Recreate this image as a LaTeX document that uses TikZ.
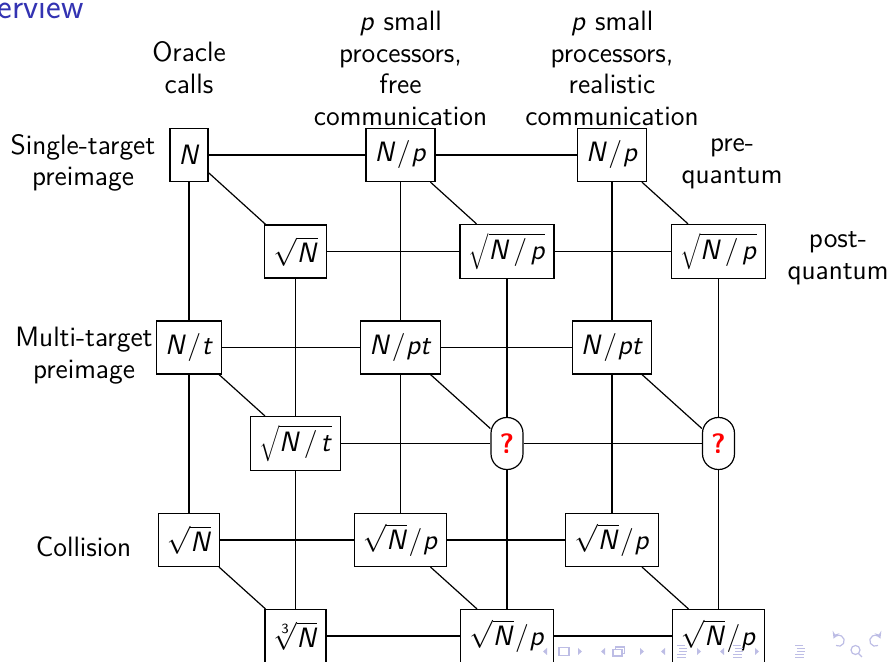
\documentclass[tikz,border=0pt]{standalone}
\usepackage{fix-cm}
\usetikzlibrary{calc}
\definecolor{struct}{rgb}{0.2,0.2,0.7}
\definecolor{navcol}{rgb}{0.74,0.74,0.9}
\newcommand{\ml}[1]{\vtop{\halign{\hfil##\hfil\cr #1\crcr}}}
\newcommand{\sv}[1]{\textsl{#1}}
\newcommand{\slsh}{\kern0.8pt/\kern0.3pt}
\newcommand{\wslsh}{\kern2pt/\kern1.6pt}
\newcommand{\mysqrt}[1]{$\sqrt{\hbox{#1}}$}
\newcommand{\bigsqrt}[1]{$\sqrt{\hbox{\vrule height 0.8em depth 0.32em width 0pt #1}}$}
\tikzset{
  basefont/.style={font=\fontsize{14}{15.75}\selectfont\sffamily},
  cell/.style={draw, line width=0.6pt, fill=white, minimum height=26.5pt, inner sep=4.3pt, basefont},
  qcell/.style={draw, line width=0.6pt, fill=white, minimum height=26pt, minimum width=16pt, inner sep=0pt, rounded corners=7.9pt, text=red, font=\fontsize{14}{15.75}\selectfont\sffamily\bfseries},
  lbl/.style={inner sep=0pt, anchor=base, basefont},
  conn/.style={line width=0.6pt},
  nav/.style={navcol, line width=0.6pt}
}
\begin{document}
\begin{tikzpicture}[x=0.5pt,y=-0.5pt]
\useasboundingbox (0,0) rectangle (891,662);
\clip (0,0) rectangle (891,662);
% title
\node[inner sep=0pt, anchor=base west, text=struct, font=\fontsize{17.5}{20}\selectfont\sffamily] (title) at (-42,18.5) {Overview};
% front face
\node[cell] (fA1) at (189,155) {\sv{N}};
\node[cell] (fB1) at (400.5,155) {\sv{N}\slsh\sv{p}};
\node[cell] (fC1) at (612,155) {\sv{N}\slsh\sv{p}};
\node[cell] (fA2) at (189,347.5) {\sv{N}\slsh\sv{t}};
\node[cell] (fB2) at (400.5,347.5) {\sv{N}\slsh\sv{pt}};
\node[cell] (fC2) at (612,347.5) {\sv{N}\slsh\sv{pt}};
\node[cell] (fA3) at (189,540) {\mysqrt{\sv{N}}};
\node[cell] (fB3) at (400.5,540) {\mysqrt{\sv{N}}\slsh\sv{p}};
\node[cell] (fC3) at (612,540) {\mysqrt{\sv{N}}\slsh\sv{p}};
% back face
\node[cell] (bA1) at (295.5,251.5) {\mysqrt{\sv{N}}};
\node[cell] (bB1) at (507,251.5) {\bigsqrt{\sv{N}\wslsh\sv{p}}};
\node[cell] (bC1) at (718.5,251.5) {\bigsqrt{\sv{N}\wslsh\sv{p}}};
\node[cell] (bA2) at (295.5,443.5) {\bigsqrt{\sv{N}\wslsh\sv{t}}};
\node[qcell] (bB2) at (507,443.5) {?};
\node[qcell] (bC2) at (718.5,443.5) {?};
\node[cell] (bA3) at (295.5,636) {$\sqrt[\hbox{\scriptsize 3}]{\hbox{\sv{N}}}$};
\node[cell] (bB3) at (507,636) {\mysqrt{\sv{N}}\slsh\sv{p}};
\node[cell] (bC3) at (718.5,636) {\mysqrt{\sv{N}}\slsh\sv{p}};
% connectors
\foreach \r in {1,2,3}{
  \draw[conn] (fA\r) -- (fB\r);
  \draw[conn] (fB\r) -- (fC\r);
  \draw[conn] (bA\r) -- (bB\r);
  \draw[conn] (bB\r) -- (bC\r);
}
\foreach \c in {A,B,C}{
  \draw[conn] (f\c1) -- (f\c2);
  \draw[conn] (f\c2) -- (f\c3);
  \draw[conn] (b\c1) -- (b\c2);
  \draw[conn] (b\c2) -- (b\c3);
  \foreach \r in {1,2,3}{
    \draw[conn] (f\c\r) -- (b\c\r);
  }
}
% labels
\node[lbl] (hA) at (189,62) {\ml{Oracle\cr calls}};
\node[lbl] (hB) at (400.5,31) {\ml{\sv{p} small\cr processors,\cr free\cr communication}};
\node[lbl] (hC) at (612,31) {\ml{\sv{p} small\cr processors,\cr realistic\cr communication}};
\node[lbl] (pre) at (732,152) {\ml{pre-\cr quantum}};
\node[lbl] (post) at (838,248) {\ml{post-\cr quantum}};
\node[lbl] (rS) at (83,154.5) {\ml{Single-target\cr preimage}};
\node[lbl] (rM) at (84,347) {\ml{Multi-target\cr preimage}};
\node[lbl] (rC) at (83.5,557) {Collision};
% navigation symbols
\begin{scope}[nav]
\foreach \x in {545,603,663,722}{ \fill (\x+2,648) -- (\x-2,651.5) -- (\x+2,655) -- cycle; }
\foreach \x in {580,642,699,757}{ \fill (\x-2,648) -- (\x+2,651.5) -- (\x-2,655) -- cycle; }
\draw (559,647.5) rectangle (569,655.5);
\draw (615.5,647) rectangle (624.5,653.5);
\draw[fill=white] (613,649.5) rectangle (622,656);
\foreach \x in {682,738,800}{
  \draw (\x-5,645.5) -- (\x+3,645.5);
  \draw (\x-3,648.5) -- (\x+5,648.5);
  \draw (\x-3,651.5) -- (\x+5,651.5);
  \draw (\x-5,654.5) -- (\x+4,654.5);
  \draw (\x-5,657.5) -- (\x+4,657.5);
}
\draw[->, >=stealth] (836,645.5) arc[start angle=120, end angle=-160, radius=5.5];
\draw (855.5,650) circle[radius=4.5];
\draw (858.5,653.5) -- (862,657);
\draw[->, >=stealth] (878,645.5) arc[start angle=60, end angle=340, radius=5.5];
\end{scope}
\end{tikzpicture}
\end{document}
